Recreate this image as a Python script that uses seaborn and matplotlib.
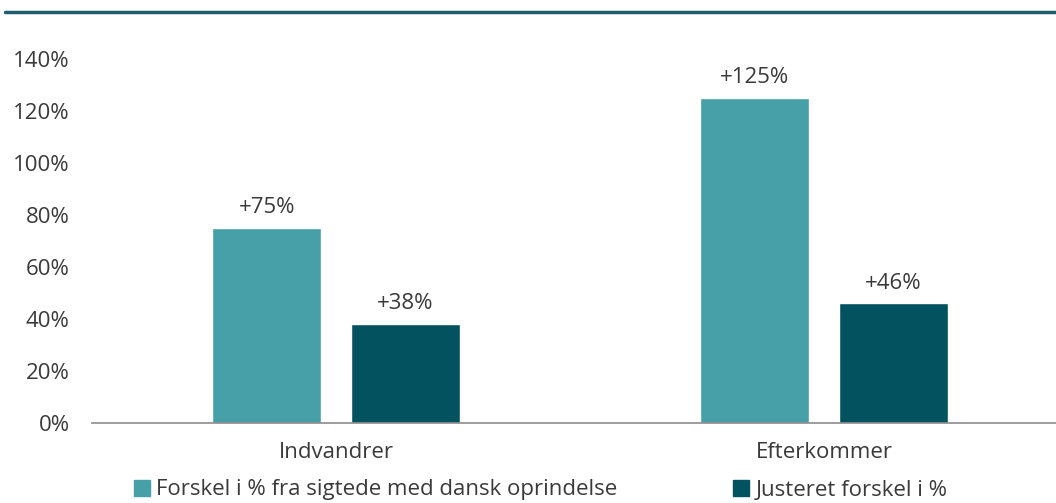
import pandas as pd
import matplotlib.pyplot as plt
import seaborn as sns
from matplotlib.lines import Line2D
from matplotlib.patches import Patch

# Data
groups = ['Indvandrer', 'Efterkommer']
series = ['Forskel i % fra sigtede med dansk oprindelse', 'Justeret forskel i %']
raw_diff = [75, 125]
adj_diff = [38, 46]
yticks = [0, 20, 40, 60, 80, 100, 120, 140]

colors = ['#479FA7', '#02535F']
txt = '#3a3a3a'
fs = 16

df = pd.DataFrame({
    'group': groups * 2,
    'series': [series[0]] * 2 + [series[1]] * 2,
    'value': raw_diff + adj_diff,
})

sns.set_theme(style='white')
plt.rcParams['font.family'] = ['Open Sans', 'DejaVu Sans']

fig = plt.figure(figsize=(10.56, 5.03), dpi=100)
ax = fig.add_axes([92 / 1056, 1 - 423 / 503, 976 / 1056, 364 / 503])

sns.barplot(data=df, x='group', y='value', hue='series', palette=colors,
            width=0.566, gap=0.21, ax=ax, legend=False, saturation=1)

# value labels above the bars
for cont in ax.containers:
    ax.bar_label(cont, labels=['+%d%%' % v for v in cont.datavalues],
                 padding=7, fontsize=fs, color=txt)

ax.set_xlim(-0.5, 1.5)
ax.set_ylim(0, 140)
ax.set_yticks(yticks)
ax.set_yticklabels(['%d%%' % t for t in yticks])
ax.set_xlabel('')
ax.set_ylabel('')
ax.tick_params(axis='both', length=0, labelsize=fs, labelcolor=txt)
ax.tick_params(axis='y', pad=16)
ax.tick_params(axis='x', pad=14)
for s in ['top', 'right', 'left']:
    ax.spines[s].set_visible(False)
ax.spines['bottom'].set_color('#8c8c8c')
ax.spines['bottom'].set_linewidth(1.2)

# thick rule at the top of the figure
fig.add_artist(Line2D([5 / 1056, 1], [1 - 12 / 503, 1 - 12 / 503],
                      color='#1E5D6E', linewidth=2.5))

handles = [Patch(color=c) for c in colors]
fig.legend(handles, series, loc='center', bbox_to_anchor=(0.512, 1 - 490 / 503),
           ncol=2, frameon=False, fontsize=fs, handlelength=0.7, handleheight=0.7,
           handletextpad=0.3, columnspacing=5.2, labelcolor=txt)

plt.savefig('out.png', dpi=100)
